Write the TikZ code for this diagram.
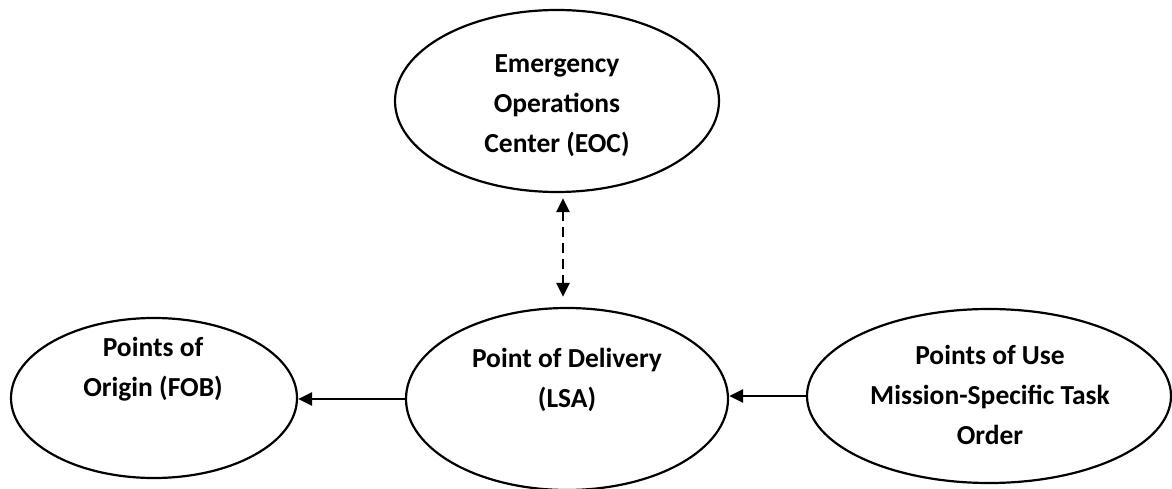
\documentclass[tikz,border=0pt]{standalone}
\usepackage{fontspec}
\setmainfont{Carlito}
\usetikzlibrary{shapes.geometric,arrows.meta}
\begin{document}
\begin{tikzpicture}[x=1pt,y=-1pt,
  bubble/.style={draw=black, line width=2.2pt, ellipse, inner sep=0pt},
  caption/.style={align=center, font=\fontsize{27.5}{40}\selectfont\bfseries, inner sep=0pt},
  tip/.style={Triangle[length=14pt,width=13pt]},
  link/.style={line width=2.6pt, -{Triangle[length=14pt,width=13pt]}},
  duallink/.style={line width=2.6pt, dash pattern=on 10pt off 6pt, {Triangle[length=14pt,width=13pt]}-{Triangle[length=14pt,width=13pt]}}]
\useasboundingbox (0,0) rectangle (1172,489);

% ellipses
\node[bubble, minimum width=324pt, minimum height=182pt] (eoc) at (557,101) {};
\node[bubble, minimum width=322pt, minimum height=182pt] (lsa) at (567,399) {};
\node[bubble, minimum width=286pt, minimum height=160pt] (fob) at (154,398) {};
\node[bubble, minimum width=364pt, minimum height=174pt] (pou) at (989,396) {};

% captions
\node[caption] (teoc) at (557,106) {Emergency\\Operations\\Center (EOC)};
\node[caption] (tlsa) at (567,380) {Point of Delivery\\(LSA)};
\node[caption] (tfob) at (153,369) {Points of\\Origin (FOB)};
\node[caption] (tpou) at (990,395) {Points of Use\\Mission-Specific Task\\Order};

% connectors
\coordinate (ax) at (563,0);
\draw[duallink, shorten <=5pt, shorten >=10pt] (ax |- eoc.south) -- (ax |- lsa.north);
\draw[link] (lsa.west) -- (lsa.west -| fob.east);
\draw[link] (pou.west) -- (pou.west -| lsa.east);
\end{tikzpicture}
\end{document}
